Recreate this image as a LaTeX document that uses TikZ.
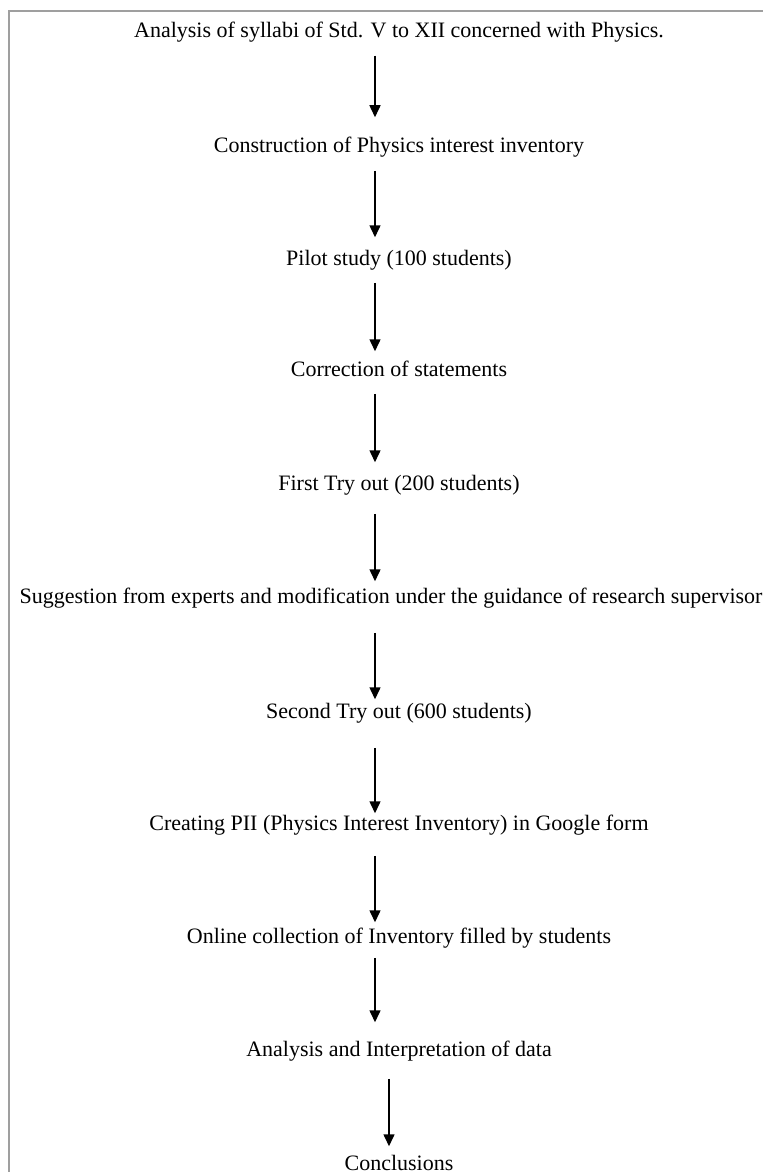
\documentclass[tikz,border=0pt]{standalone}
\usepackage{fontspec}
\setmainfont{Liberation Serif}
\usetikzlibrary{arrows.meta}

\begin{document}
\begin{tikzpicture}
    %[->,>=Stealth,x=1pt,y=-1pt]
    [x=0.5pt,y=-0.5pt,->,>={Triangle[length=6pt,width=5.5pt]},line width=0.75pt,
     every node/.style={anchor=base,inner sep=0pt,text height=8pt,text depth=2.5pt,font=\fontsize{11}{13}\selectfont}]
    \useasboundingbox (0,0) rectangle (763,1172);
    \draw[-,gray!75,line width=1pt] (9,1172) |- (763,11);

    \node (syll)  at (399,38)   {Analysis of syllabi of Std. V to XII concerned with Physics.};
    \node (cons)  at (399,152)  {Construction of Physics interest inventory};
    \node (pilot) at (399,265)  {Pilot study (100 students)};
    \node (corr)  at (399,376)  {Correction of statements};
    \node (try1)  at (399,490)  {First Try out (200 students)};
    \node (sugg)  at (391,603)  {Suggestion from experts and modification under the guidance of research supervisor};
    \node (try2)  at (399,718)  {Second Try out (600 students)};
    \node (form)  at (399,830)  {Creating PII (Physics Interest Inventory) in Google form};
    \node (coll)  at (399,943)  {Online collection of Inventory filled by students};
    \node (anal)  at (399,1056) {Analysis and Interpretation of data};
    \node (concl) at (399,1170) {Conclusions};

    \path ([xshift=-12pt]syll.south)  edge[shorten <=6pt,shorten >=9pt]   ([xshift=-12pt]cons.north);
    \path ([xshift=-12pt]cons.south)  edge[shorten <=6.5pt,shorten >=5.5pt] ([xshift=-12pt]pilot.north);
    \path ([xshift=-12pt]pilot.south) edge[shorten <=6pt,shorten >=4pt]   ([xshift=-12pt]corr.north);
    \path ([xshift=-12pt]corr.south)  edge[shorten <=6pt,shorten >=5.5pt] ([xshift=-12pt]try1.north);
    \path ([xshift=-12pt]try1.south)  edge[shorten <=9pt,shorten >=2.5pt] ([xshift=-8pt]sugg.north);
    \path ([xshift=-8pt]sugg.south)   edge[shorten <=12pt,shorten >=1pt]  ([xshift=-12pt]try2.north);
    \path ([xshift=-12pt]try2.south)  edge[shorten <=12pt]                ([xshift=-12pt]form.north);
    \path ([xshift=-12pt]form.south)  edge[shorten <=10pt,shorten >=2pt]  ([xshift=-12pt]coll.north);
    \path ([xshift=-12pt]coll.south)  edge[shorten <=4.5pt,shorten >=8.5pt] ([xshift=-12pt]anal.north);
    \path ([xshift=-5pt]anal.south)   edge[shorten <=8.5pt,shorten >=3.5pt] ([xshift=-5pt]concl.north);

  \end{tikzpicture}
\end{document}
